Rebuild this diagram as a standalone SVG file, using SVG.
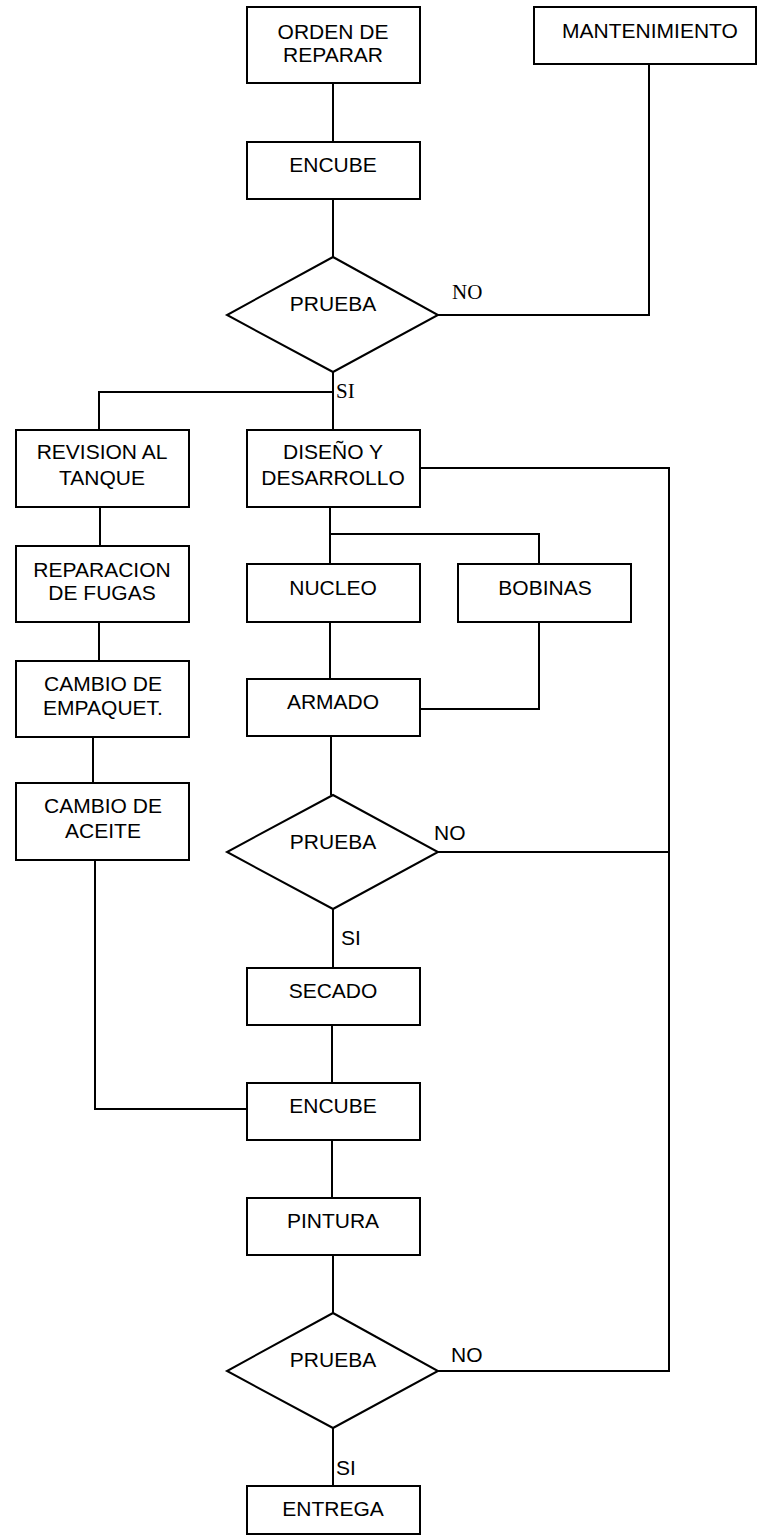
<svg xmlns="http://www.w3.org/2000/svg" width="757" height="1536" viewBox="0 0 757 1536">
  <style>
    .box { fill: #ffffff; stroke: #000000; stroke-width: 2; }
    .wire { fill: none; stroke: #000000; stroke-width: 2; }
    .lbl { font-family: "Liberation Sans", Arial, sans-serif; font-size: 21px; fill: #000000; text-anchor: middle; }
    .tag { font-family: "Liberation Sans", Arial, sans-serif; font-size: 21px; fill: #000000; }
    .tag-serif { font-family: "Liberation Serif", "Times New Roman", serif; font-size: 21px; fill: #000000; }
  </style>
  <rect width="757" height="1536" fill="#ffffff"/>

  <!-- connectors -->
  <g id="connectors" class="wire">
    <path d="M333 83 V142"/>
    <path d="M333 199 V257"/>
    <path d="M649 64 V315 H438"/>
    <path d="M333 372 V430"/>
    <path d="M333 392 H99 V430"/>
    <path d="M100 507 V546"/>
    <path d="M99 622 V661"/>
    <path d="M93 737 V783"/>
    <path d="M95 860 V1109 H247"/>
    <path d="M330 507 V564"/>
    <path d="M330 534 H539 V564"/>
    <path d="M539 622 V709 H420"/>
    <path d="M330 622 V679"/>
    <path d="M331 736 V795"/>
    <path d="M420 468 H669 V1371 H438"/>
    <path d="M438 852 H669"/>
    <path d="M333 909 V968"/>
    <path d="M332 1025 V1083"/>
    <path d="M332 1140 V1198"/>
    <path d="M333 1255 V1313"/>
    <path d="M333 1428 V1486"/>
  </g>

  <!-- branch labels -->
  <g id="branch-labels">
    <text class="tag-serif" x="452" y="299">NO</text>
    <text class="tag-serif" x="336" y="398">SI</text>
    <text class="tag" x="434" y="840">NO</text>
    <text class="tag" x="341" y="945">SI</text>
    <text class="tag" x="451" y="1362">NO</text>
    <text class="tag" x="336" y="1475">SI</text>
  </g>

  <g id="orden">
    <rect class="box" x="247" y="7" width="173" height="76"/>
    <text class="lbl" x="333" y="39">ORDEN DE</text>
    <text class="lbl" x="333" y="62">REPARAR</text>
  </g>
  <g id="mantenimiento">
    <rect class="box" x="534" y="7" width="222" height="57"/>
    <text class="lbl" x="650" y="38">MANTENIMIENTO</text>
  </g>
  <g id="encube-1">
    <rect class="box" x="247" y="142" width="173" height="57"/>
    <text class="lbl" x="333" y="172">ENCUBE</text>
  </g>
  <g id="prueba-1">
    <polygon class="box" points="333,257 438,315 333,372 227,315"/>
    <text class="lbl" x="333" y="311">PRUEBA</text>
  </g>
  <g id="revision">
    <rect class="box" x="16" y="430" width="173" height="77"/>
    <text class="lbl" x="102" y="459">REVISION AL</text>
    <text class="lbl" x="102" y="485">TANQUE</text>
  </g>
  <g id="diseno">
    <rect class="box" x="247" y="430" width="173" height="77"/>
    <text class="lbl" x="333" y="459">DISEÑO Y</text>
    <text class="lbl" x="333" y="485">DESARROLLO</text>
  </g>
  <g id="reparacion">
    <rect class="box" x="16" y="546" width="173" height="76"/>
    <text class="lbl" x="102" y="577">REPARACION</text>
    <text class="lbl" x="102" y="600">DE FUGAS</text>
  </g>
  <g id="nucleo">
    <rect class="box" x="247" y="564" width="173" height="58"/>
    <text class="lbl" x="333" y="595">NUCLEO</text>
  </g>
  <g id="bobinas">
    <rect class="box" x="458" y="564" width="173" height="58"/>
    <text class="lbl" x="545" y="595">BOBINAS</text>
  </g>
  <g id="empaquet">
    <rect class="box" x="16" y="661" width="173" height="76"/>
    <text class="lbl" x="103" y="691">CAMBIO DE</text>
    <text class="lbl" x="103" y="715">EMPAQUET.</text>
  </g>
  <g id="armado">
    <rect class="box" x="247" y="679" width="173" height="57"/>
    <text class="lbl" x="333" y="709">ARMADO</text>
  </g>
  <g id="aceite">
    <rect class="box" x="16" y="783" width="173" height="77"/>
    <text class="lbl" x="103" y="813">CAMBIO DE</text>
    <text class="lbl" x="103" y="838">ACEITE</text>
  </g>
  <g id="prueba-2">
    <polygon class="box" points="333,795 438,852 333,909 227,852"/>
    <text class="lbl" x="333" y="849">PRUEBA</text>
  </g>
  <g id="secado">
    <rect class="box" x="247" y="968" width="173" height="57"/>
    <text class="lbl" x="333" y="998">SECADO</text>
  </g>
  <g id="encube-2">
    <rect class="box" x="247" y="1083" width="173" height="57"/>
    <text class="lbl" x="333" y="1113">ENCUBE</text>
  </g>
  <g id="pintura">
    <rect class="box" x="247" y="1198" width="173" height="57"/>
    <text class="lbl" x="333" y="1228">PINTURA</text>
  </g>
  <g id="prueba-3">
    <polygon class="box" points="333,1313 438,1371 333,1428 227,1371"/>
    <text class="lbl" x="333" y="1367">PRUEBA</text>
  </g>
  <g id="entrega">
    <rect class="box" x="247" y="1486" width="173" height="48"/>
    <text class="lbl" x="333" y="1516">ENTREGA</text>
  </g>
</svg>
